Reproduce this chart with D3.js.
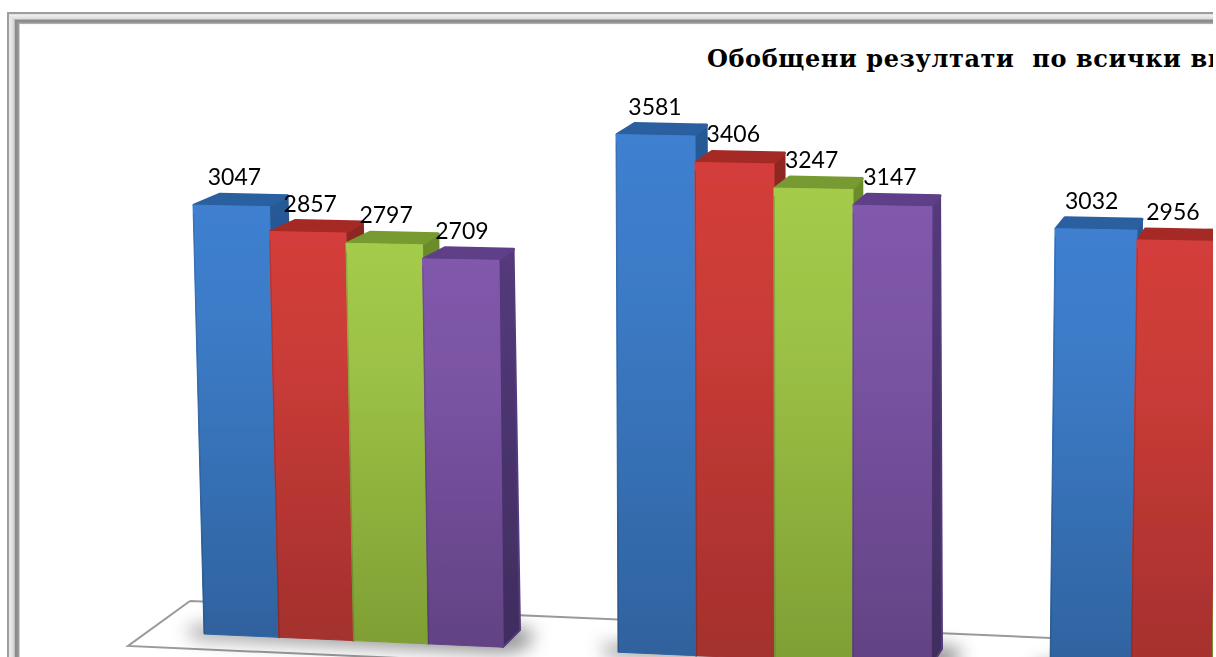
<!DOCTYPE html>
<html>
<head>
<meta charset="utf-8">
<script src="https://cdn.jsdelivr.net/npm/d3@7"></script>
<style>
html,body{margin:0;padding:0;background:#fff;overflow:hidden}
svg{display:block}
</style>
</head>
<body>
<svg id="c" width="1216" height="657"></svg>
<script>
const titleText = "Обобщени резултати  по всички ви";
const groupIndex = [0, 1, 2];
const blueValues = [3047, 3581, 3032];
const redValues = [2857, 3406, 2956];
const greenValues = [2797, 3247, 2900];
const purpleValues = [2709, 3147, null];

const seriesList = [
  {values: blueValues, light: "#3f80d0", dark: "#2f629e", top: "#2b609f", side: "#285a96", sideLow: "#264f84"},
  {values: redValues, light: "#d43e3a", dark: "#a3302d", top: "#a52b28", side: "#8f2624", sideLow: "#7c2422"},
  {values: greenValues, light: "#a4cb4a", dark: "#7f9f34", top: "#789a30", side: "#6c8c2b", sideLow: "#5f7a27"},
  {values: purpleValues, light: "#8159ac", dark: "#624284", top: "#5e3f88", side: "#553a7c", sideLow: "#3f2d5e"}
];

const svg = d3.select("#c");
const defs = svg.append("defs");
defs.append("filter").attr("id", "blur").attr("x", "-30%").attr("y", "-80%").attr("width", "160%").attr("height", "260%")
  .append("feGaussianBlur").attr("stdDeviation", 9);
defs.append("filter").attr("id", "soft").attr("filterUnits", "userSpaceOnUse").attr("x", 0).attr("y", 0).attr("width", 1216).attr("height", 700)
  .append("feGaussianBlur").attr("stdDeviation", 0.6);
defs.append("clipPath").attr("id", "clip").append("rect").attr("width", 1213).attr("height", 657);
seriesList.forEach((s, i) => {
  const g = defs.append("linearGradient").attr("id", "front" + i).attr("x1", 0).attr("x2", 0).attr("y1", 0).attr("y2", 1);
  g.append("stop").attr("offset", "0").attr("stop-color", s.light);
  g.append("stop").attr("offset", "0.35").attr("stop-color", d3.interpolateRgb(s.light, s.dark)(0.25));
  g.append("stop").attr("offset", "1").attr("stop-color", s.dark);
  const h = defs.append("linearGradient").attr("id", "side" + i).attr("x1", 0).attr("x2", 0).attr("y1", 0).attr("y2", 1);
  h.append("stop").attr("offset", "0").attr("stop-color", s.side);
  h.append("stop").attr("offset", "1").attr("stop-color", s.sideLow);
});

// Perspective scales: slot = 5 * group + series edge
const slotKnots = [0, 4, 5, 9, 10, 14];
const bottomX = d3.scaleLinear().domain(slotKnots).range([204, 503, 618, 931, 1050, 1374]);
const topX = d3.scaleLinear().domain(slotKnots).range([193, 499, 616, 932, 1055, 1383]);
const baseY = d3.scaleLinear().domain([204, 1204]).range([634, 678]);
const valueH = d3.scaleLinear().domain([0, 4000]).range([0, 563]);
const growth = d3.scaleLinear().domain([204, 278, 427, 616, 1050, 1130]).range([1, 1.009, 1.0096, 1.027, 1.037, 1.045]);
const depthL = d3.scaleLinear().domain([193, 1055]).range([27, 10]);
const depthR = d3.scaleLinear().domain([270, 1137]).range([18, 5]);
const depthBottom = d3.scaleLinear().domain([503, 931]).range([17, 11]);
const labelShift = d3.scaleLinear().domain([190, 1176]).range([3.5, -5]);
const backLine = d3.scaleLinear().domain([190, 1213]).range([601, 645]);
const frontLine = d3.scaleLinear().domain([128, 1213]).range([646, 694]);

const root = svg.append("g").attr("clip-path", "url(#clip)");
const line = d3.line();

// Frame
const frame = root.append("g");
const frameGrad = defs.append("linearGradient").attr("id", "bandH").attr("x1", 0).attr("x2", 1).attr("y1", 0).attr("y2", 0);
[[0, "#9a9a9a"], [0.12, "#a0a0a0"], [0.2, "#eeeeee"], [0.55, "#d4d4d4"], [0.66, "#868686"], [0.9, "#9c9c9c"], [1, "#f2f2f2"]]
  .forEach(d => frameGrad.append("stop").attr("offset", d[0]).attr("stop-color", d[1]));
const frameGradV = defs.append("linearGradient").attr("id", "bandV").attr("x1", 0).attr("x2", 0).attr("y1", 0).attr("y2", 1);
[[0, "#9a9a9a"], [0.12, "#a0a0a0"], [0.22, "#f2f2f2"], [0.55, "#dcdcdc"], [0.66, "#868686"], [0.9, "#9c9c9c"], [1, "#f2f2f2"]]
  .forEach(d => frameGradV.append("stop").attr("offset", d[0]).attr("stop-color", d[1]));
frame.append("rect").attr("x", 7).attr("y", 12).attr("width", 13).attr("height", 645).attr("fill", "url(#bandH)");
frame.append("path").attr("d", "M7,12 L1213,12 L1213,24.5 L20,24.5 L7,12Z").attr("fill", "url(#bandV)");

// Floor
root.append("path")
  .attr("d", line([[190, backLine(190)], [1213, backLine(1213)]]) + line([[190, backLine(190)], [128, frontLine(128)], [1213, frontLine(1213)]]))
  .attr("fill", "none").attr("stroke", "#9a9a9a").attr("stroke-width", 2);

// Title
svg.append("text").attr("x", 707).attr("y", 67)
  .attr("clip-path", "url(#clip)")
  .style("white-space", "pre")
  .attr("font-family", "'DejaVu Serif', serif").attr("font-weight", "bold").attr("font-size", 24).attr("letter-spacing", 0.6)
  .attr("fill", "#000").text(titleText);

// Shadows
const shadows = root.append("g").attr("filter", "url(#blur)");
groupIndex.forEach(g => {
  const count = seriesList.filter(s => s.values[g] != null).length;
  const x0 = bottomX(5 * g), x1 = bottomX(5 * g + count);
  shadows.append("path").attr("fill", "#000").attr("opacity", 0.42)
    .attr("d", line([[x0 - 18, baseY(x0) - 6], [x0, baseY(x0) - 8], [x1 + 20, baseY(x1) - 20], [x1 + 32, baseY(x1) - 14], [x1 + 22, baseY(x1) + 2], [x1, baseY(x1) + 6], [x0 - 10, baseY(x0) + 4]]) + "Z");
});

// Bars
const bars = root.append("g").attr("filter", "url(#soft)");
const labels = [];
groupIndex.forEach(g => {
  seriesList.forEach((s, i) => {
    const v = s.values[g];
    if (v == null) return;
    const u = 5 * g + i;
    const bl = bottomX(u), br = bottomX(u + 1);
    const tl = topX(u), tr = topX(u + 1);
    const yb = baseY(bl), ybr = baseY(br);
    const yt = yb - valueH(v) * growth(bl);
    const ytr = yt + 1.5;
    const dl = depthL(tl), dr = depthR(tr), db = depthBottom(br);
    const back = [[tl + dl, yt - 11], [tr + dr, ytr - 11]];
    const gr = bars.append("g").attr("stroke-linejoin", "round");
    // side
    gr.append("path").attr("fill", `url(#side${i})`).attr("stroke", s.side).attr("stroke-width", 2)
      .attr("d", line([[tr, ytr], back[1], [br + db, ybr - 17], [br, ybr]]) + "Z");
    // top
    gr.append("path").attr("fill", s.top).attr("stroke", s.top).attr("stroke-width", 3)
      .attr("d", line([[tl + 1, yt], back[0], back[1], [tr - 1, ytr]]) + "Z");
    // front
    gr.append("path").attr("fill", `url(#front${i})`).attr("stroke", `url(#front${i})`).attr("stroke-width", 1)
      .attr("d", line([[tl, yt], [tr, ytr], [br, ybr], [bl, yb]]) + "Z");
    // seam on the left edge
    gr.append("path").attr("fill", "none").attr("stroke", "#000").attr("stroke-opacity", 0.14).attr("stroke-width", 1.2)
      .attr("d", line([[tl + 0.4, yt + 8], [bl + 0.4, yb]]));
    labels.push({v, x: (tl + tr) / 2 + labelShift((tl + tr) / 2), y: yt - 20});
  });
});

// Labels
root.append("g").selectAll("text").data(labels.filter(d => d.x < 1213)).join("text")
  .attr("x", d => d.x).attr("y", d => d.y)
  .attr("text-anchor", "middle")
  .attr("font-family", "Lato, 'Open Sans', sans-serif").attr("font-size", 23).attr("fill", "#000")
  .text(d => d.v);
</script>
</body>
</html>
